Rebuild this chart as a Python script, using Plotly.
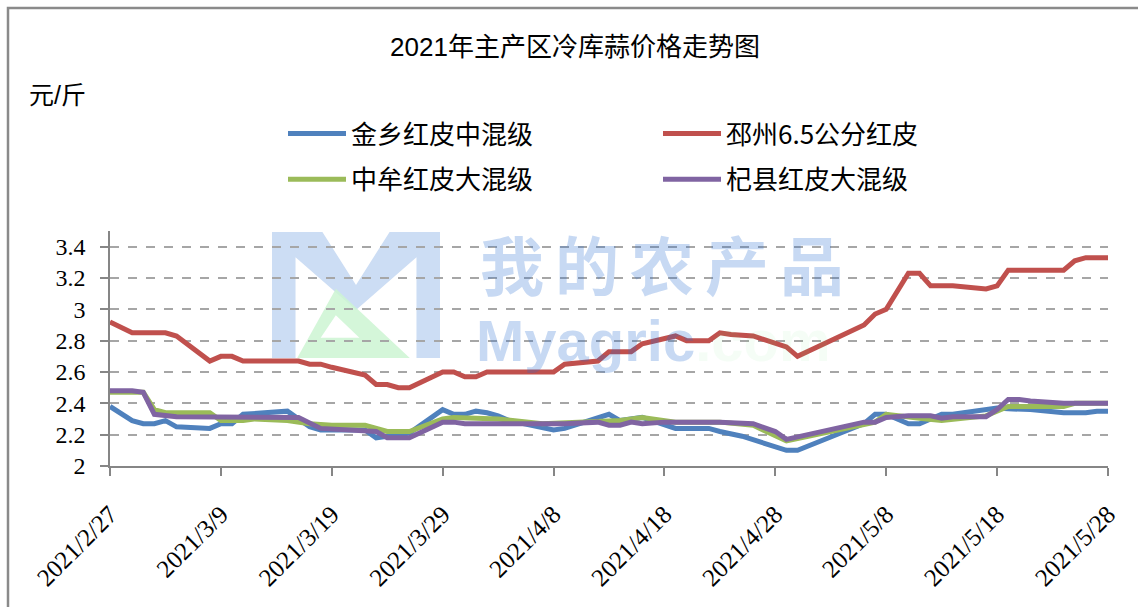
import plotly.graph_objects as go

# ---------------- data ----------------
jinxiang_dates = ["2021-02-27", "2021-03-01", "2021-03-02", "2021-03-03", "2021-03-04", "2021-03-05",
                  "2021-03-08", "2021-03-09", "2021-03-10", "2021-03-11", "2021-03-15", "2021-03-16",
                  "2021-03-17", "2021-03-18", "2021-03-22", "2021-03-23", "2021-03-24", "2021-03-26",
                  "2021-03-29", "2021-03-30", "2021-03-31", "2021-04-01", "2021-04-02", "2021-04-03",
                  "2021-04-04", "2021-04-08", "2021-04-09", "2021-04-13", "2021-04-14", "2021-04-16",
                  "2021-04-19", "2021-04-22", "2021-04-23", "2021-04-25", "2021-04-29", "2021-04-30",
                  "2021-05-06", "2021-05-07", "2021-05-08", "2021-05-10", "2021-05-11", "2021-05-13",
                  "2021-05-14", "2021-05-17", "2021-05-18", "2021-05-19", "2021-05-21", "2021-05-24",
                  "2021-05-26", "2021-05-27", "2021-05-28"]
jinxiang_vals = [2.38, 2.29, 2.27, 2.27, 2.29, 2.25,
                 2.24, 2.27, 2.27, 2.33, 2.35, 2.30,
                 2.25, 2.23, 2.23, 2.18, 2.19, 2.21,
                 2.36, 2.33, 2.33, 2.35, 2.34, 2.32,
                 2.29, 2.23, 2.24, 2.33, 2.29, 2.31,
                 2.24, 2.24, 2.22, 2.19, 2.10, 2.10,
                 2.27, 2.33, 2.33, 2.27, 2.27, 2.33,
                 2.33, 2.36, 2.37, 2.365, 2.36, 2.34,
                 2.34, 2.35, 2.35]

pizhou_dates = ["2021-02-27", "2021-03-01", "2021-03-04", "2021-03-05", "2021-03-08", "2021-03-09",
                "2021-03-10", "2021-03-11", "2021-03-16", "2021-03-17", "2021-03-18", "2021-03-19",
                "2021-03-22", "2021-03-23", "2021-03-24", "2021-03-25", "2021-03-26", "2021-03-29",
                "2021-03-30", "2021-03-31", "2021-04-01", "2021-04-02", "2021-04-08", "2021-04-09",
                "2021-04-12", "2021-04-13", "2021-04-15", "2021-04-16", "2021-04-19", "2021-04-20",
                "2021-04-22", "2021-04-23", "2021-04-24", "2021-04-26", "2021-04-29", "2021-04-30",
                "2021-05-06", "2021-05-07", "2021-05-08", "2021-05-10", "2021-05-11", "2021-05-12",
                "2021-05-14", "2021-05-17", "2021-05-18", "2021-05-19", "2021-05-24", "2021-05-25",
                "2021-05-26", "2021-05-28"]
pizhou_vals = [2.92, 2.85, 2.85, 2.83, 2.67, 2.70,
               2.70, 2.67, 2.67, 2.65, 2.65, 2.63,
               2.58, 2.52, 2.52, 2.50, 2.50, 2.60,
               2.60, 2.57, 2.57, 2.60, 2.60, 2.65,
               2.67, 2.73, 2.73, 2.78, 2.83, 2.80,
               2.80, 2.85, 2.84, 2.83, 2.76, 2.70,
               2.90, 2.97, 3.00, 3.23, 3.23, 3.15,
               3.15, 3.13, 3.15, 3.25, 3.25, 3.31,
               3.33, 3.33]

zhongmou_dates = ["2021-02-27", "2021-03-02", "2021-03-03", "2021-03-04", "2021-03-08", "2021-03-09",
                  "2021-03-11", "2021-03-12", "2021-03-15", "2021-03-17", "2021-03-19", "2021-03-22",
                  "2021-03-24", "2021-03-26", "2021-03-29", "2021-03-30", "2021-04-03", "2021-04-07",
                  "2021-04-14", "2021-04-16", "2021-04-19", "2021-04-23", "2021-04-26", "2021-04-29",
                  "2021-05-07", "2021-05-08", "2021-05-11", "2021-05-13", "2021-05-17", "2021-05-19",
                  "2021-05-24", "2021-05-25", "2021-05-28"]
zhongmou_vals = [2.47, 2.47, 2.36, 2.34, 2.34, 2.29,
                 2.29, 2.30, 2.29, 2.27, 2.26, 2.26,
                 2.22, 2.22, 2.30, 2.31, 2.30, 2.27,
                 2.29, 2.31, 2.28, 2.28, 2.26, 2.16,
                 2.28, 2.33, 2.305, 2.29, 2.32, 2.38,
                 2.38, 2.40, 2.40]

qixian_dates = ["2021-02-27", "2021-03-01", "2021-03-02", "2021-03-03", "2021-03-05", "2021-03-16",
                "2021-03-18", "2021-03-23", "2021-03-24", "2021-03-26", "2021-03-29", "2021-03-30",
                "2021-03-31", "2021-04-09", "2021-04-12", "2021-04-13", "2021-04-14", "2021-04-15",
                "2021-04-16", "2021-04-18", "2021-04-23", "2021-04-26", "2021-04-28", "2021-04-29",
                "2021-05-06", "2021-05-07", "2021-05-08", "2021-05-10", "2021-05-12", "2021-05-13",
                "2021-05-14", "2021-05-17", "2021-05-18", "2021-05-19", "2021-05-20", "2021-05-21",
                "2021-05-24", "2021-05-28"]
qixian_vals = [2.48, 2.48, 2.47, 2.33, 2.315, 2.31,
               2.24, 2.22, 2.18, 2.18, 2.28, 2.28,
               2.27, 2.27, 2.28, 2.26, 2.26, 2.28,
               2.27, 2.28, 2.28, 2.27, 2.22, 2.17,
               2.28, 2.28, 2.31, 2.32, 2.32, 2.305,
               2.315, 2.315, 2.36, 2.425, 2.425, 2.415,
               2.40, 2.40]

series_names = ["金乡红皮中混级", "邳州6.5公分红皮", "中牟红皮大混级", "杞县红皮大混级"]
series_colors = ["#4F81BD", "#C0504D", "#9BBB59", "#8064A2"]

x_tickvals = ["2021-02-27", "2021-03-09", "2021-03-19", "2021-03-29", "2021-04-08",
              "2021-04-18", "2021-04-28", "2021-05-08", "2021-05-18", "2021-05-28"]
x_ticktext = ["2021/2/27", "2021/3/9", "2021/3/19", "2021/3/29", "2021/4/8",
              "2021/4/18", "2021/4/28", "2021/5/8", "2021/5/18", "2021/5/28"]
y_tickvals = [2, 2.2, 2.4, 2.6, 2.8, 3, 3.2, 3.4]
y_ticktext = ["2", "2.2", "2.4", "2.6", "2.8", "3", "3.2", "3.4"]

title_text = "2021年主产区冷库蒜价格走势图"
unit_text = "元/斤"
watermark_cn = ["我", "的", "农", "产", "品"]
watermark_en = "Myagric"
watermark_dom = ".com"

# ---------------- layout geometry ----------------
W, H = 1138, 607
L, R, T, B = 110, 30, 231, 141
PW, PH = W - L - R, H - T - B


def px(xp):
    return (xp - L) / PW


def py(yp):
    return (H - B - yp) / PH


fig = go.Figure()

all_series = [
    (jinxiang_dates, jinxiang_vals, 0, "legend"),
    (pizhou_dates, pizhou_vals, 1, "legend2"),
    (zhongmou_dates, zhongmou_vals, 2, "legend"),
    (qixian_dates, qixian_vals, 3, "legend2"),
]
for xs, ys, i, lg in all_series:
    fig.add_trace(go.Scatter(
        x=xs, y=ys, mode="lines", name=series_names[i],
        line=dict(color=series_colors[i], width=5),
        legend=lg, legendgroup=series_names[i],
        hoverinfo="x+y+name",
    ))

# ---------------- watermark ----------------
wm_blue = "rgba(40,110,210,0.26)"
wm_green = "rgba(100,220,120,0.25)"


def logo_path(pts_list, x0, y0, w, h):
    parts = []
    for pts in pts_list:
        seg = []
        for k, (u, v) in enumerate(pts):
            seg.append(("M" if k == 0 else "L") + f"{px(x0 + u * w):.5f},{py(y0 + v * h):.5f}")
        parts.append(" ".join(seg) + " Z")
    return " ".join(parts)


lx0, ly0, lw, lh = 272, 232, 168, 126
m_pts = [(0, 0), (0.3, 0), (0.5, 0.42), (0.7, 0), (1, 0), (1, 1), (0.86, 1), (0.86, 0.2),
         (0.5, 0.62), (0.14, 0.2), (0.14, 1), (0, 1)]
a_outer = [(0.15, 1), (0.38, 0.45), (0.82, 1)]
a_inner = [(0.38, 0.66), (0.29, 0.84), (0.52, 0.84)][::-1]

shapes = [
    dict(type="path", xref="paper", yref="paper", layer="below",
         path=logo_path([m_pts], lx0, ly0, lw, lh),
         fillcolor="#CCDDF4", line=dict(width=0)),
    dict(type="path", xref="paper", yref="paper", layer="below",
         path=logo_path([a_outer, a_inner], lx0, ly0, lw, lh),
         fillcolor="rgba(205,245,210,0.85)", line=dict(width=0)),
    # outer chart border
    dict(type="rect", xref="paper", yref="paper", layer="above",
         x0=px(8), x1=px(1300), y0=py(800), y1=py(8),
         line=dict(color="#8A8A8A", width=2.5), fillcolor="rgba(0,0,0,0)"),
]

annotations = []
for k, ch in enumerate(watermark_cn):
    annotations.append(dict(
        text=f"<b>{ch}</b>", xref="paper", yref="paper", x=px(512 + 75 * k), y=py(262),
        xanchor="center", yanchor="middle", showarrow=False,
        font=dict(family="Noto Sans CJK SC", size=64, color=wm_blue)))
annotations += [
    dict(text=f"<b>{watermark_en}<span style='color:{wm_green}'>{watermark_dom}</span></b>",
         xref="paper", yref="paper",
         x=px(474), y=py(340), xanchor="left", yanchor="middle", showarrow=False,
         font=dict(family="Liberation Sans", size=58, color=wm_blue)),
    dict(text=unit_text, xref="paper", yref="paper", x=px(27), y=py(95),
         xanchor="left", yanchor="middle", showarrow=False,
         font=dict(family="Liberation Sans, Noto Sans CJK SC", size=25, color="#000000")),
]

legend_font = dict(family="Noto Sans CJK SC", size=26, color="#000000")
serif = "Liberation Serif, DejaVu Serif, serif"

fig.update_layout(
    width=W, height=H,
    margin=dict(l=L, r=R, t=T, b=B, autoexpand=False),
    paper_bgcolor="white", plot_bgcolor="white",
    title=dict(text=title_text, x=575 / W, xanchor="center", xref="container",
               y=1 - 47 / H, yanchor="middle", yref="container",
               font=dict(family="Liberation Sans, Noto Sans CJK SC", size=26, color="#000000")),
    shapes=shapes,
    annotations=annotations,
    legend=dict(x=px(283), y=py(110), xanchor="left", yanchor="top",
                orientation="v", traceorder="grouped", tracegroupgap=9,
                font=legend_font, itemwidth=58, bgcolor="rgba(0,0,0,0)"),
    legend2=dict(x=px(658), y=py(110), xanchor="left", yanchor="top",
                 orientation="v", traceorder="grouped", tracegroupgap=9,
                 font=legend_font, itemwidth=58, bgcolor="rgba(0,0,0,0)"),
    showlegend=True,
    hovermode="closest",
)

fig.update_xaxes(
    type="date", range=["2021-02-27", "2021-05-28"],
    tickmode="array", tickvals=x_tickvals, ticktext=x_ticktext,
    tickangle=-45, ticks="outside", ticklen=8, tickwidth=1.5, tickcolor="#868686",
    showline=True, linecolor="#868686", linewidth=1.5,
    showgrid=False, zeroline=False, ticklabelstandoff=14,
    tickfont=dict(family=serif, size=25, color="#000000"),
)
fig.update_yaxes(
    range=[2, 3.5], tickmode="array", tickvals=y_tickvals, ticktext=y_ticktext,
    ticks="outside", ticklen=8, tickwidth=1.5, tickcolor="#868686",
    showline=True, linecolor="#868686", linewidth=1.5,
    showgrid=True, gridcolor="#A6A6A6", gridwidth=1.5, griddash="dash",
    zeroline=False, ticklabelstandoff=10,
    tickfont=dict(family=serif, size=24, color="#000000"),
)

fig.write_html("out.html", config={"displayModeBar": False},
               post_script="document.body.style.margin='0px';")
